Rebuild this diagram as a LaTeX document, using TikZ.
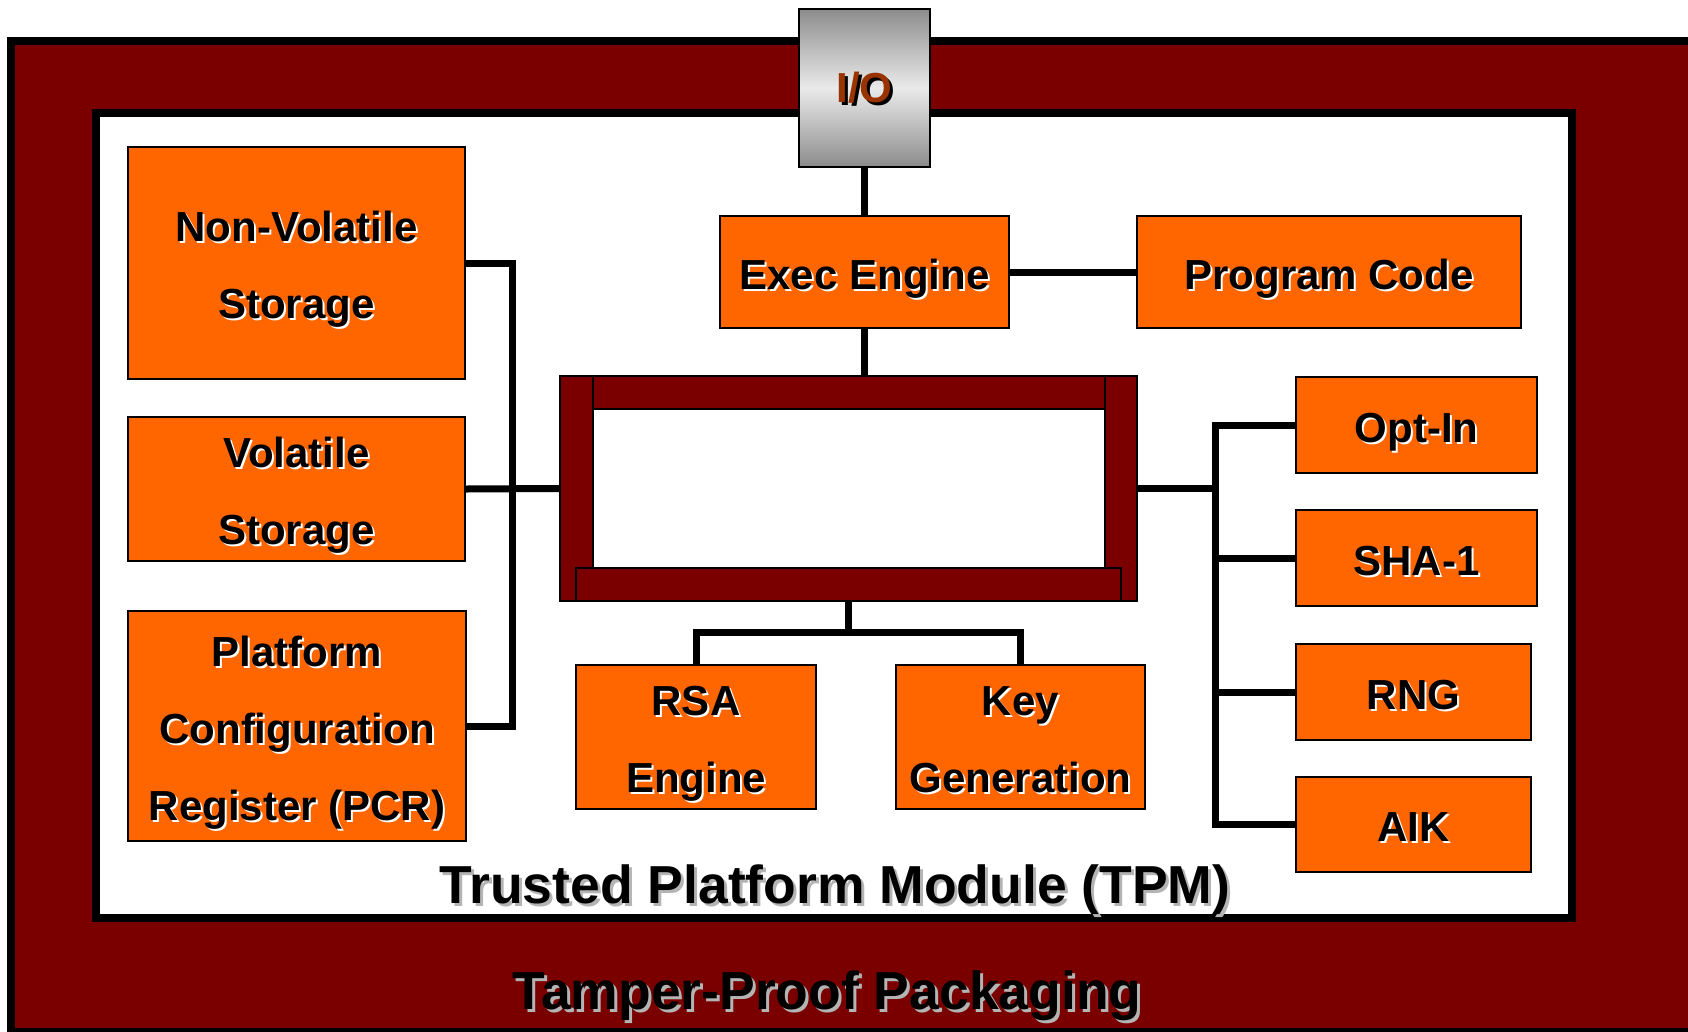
\documentclass[tikz,border=0pt]{standalone}
\usepackage{fontspec}
\setmainfont{Liberation Sans}
\definecolor{pkgred}{RGB}{122,0,0}
\definecolor{blockorange}{RGB}{255,102,0}
\definecolor{iotext}{RGB}{153,51,0}
\definecolor{iodark}{RGB}{140,140,140}
\definecolor{iolight}{RGB}{234,234,234}
\definecolor{softshadow}{RGB}{180,180,180}
% one line of text with a coloured drop shadow behind it:
% #1 shadow colour, #2 text, #3 offset
\newcommand{\shadowline}[3]{\rlap{\kern#3\smash{\raisebox{-#3}{\textcolor{#1}{#2}}}}#2}
% block label line with fixed metrics, so that labels sit centred on their capitals
\newcommand{\blocklabel}[1]{\smash{\shadowline{white}{#1}{2pt}}\rule[-3pt]{0pt}{40pt}}
\begin{document}
\begin{tikzpicture}[x=1pt,y=-1pt,
  block/.style={draw=black, line width=1.8pt, fill=blockorange, inner sep=0pt,
    align=center, font=\fontsize{42}{77}\selectfont\bfseries},
  wire/.style={draw=black, line width=7pt},
  bar/.style={draw=black, line width=1.5pt, fill=pkgred},
  frame/.style={draw=black, line width=8pt},
  caption/.style={font=\fontsize{53.5}{60}\selectfont\bfseries, anchor=base, inner sep=0pt}]
\useasboundingbox (0,0) rectangle (1688,1031);
\clip (0,0) rectangle (1688,1031);
\fill[white] (0,0) rectangle (1688,1031);

% packaging and module outlines
\draw[frame, fill=pkgred] (11,41) rectangle (1692,1032);
\draw[frame, fill=white] (96,113) rectangle (1572,918);

% internal bus frame
\node[inner sep=0pt, minimum width=577pt, minimum height=225pt] (bus) at (848.5,488.5) {};
\draw[bar] (560,376) rectangle (593,601);
\draw[bar] (1105,376) rectangle (1137,601);
\draw[bar] (593,376) rectangle (1105,409);
\draw[bar] (576,568) rectangle (1121,601);

% I/O port
\node[draw=black, line width=2pt, top color=iodark, bottom color=iodark, middle color=iolight,
  minimum width=131pt, minimum height=158pt, inner sep=0pt, text=iotext,
  font=\fontsize{42}{50}\selectfont\bfseries] (io) at (864.5,88) {\shadowline{black}{I/O}{3pt}};

% functional blocks
\node[block, minimum width=289pt, minimum height=112pt] (exec) at (864.5,272) {\blocklabel{Exec Engine}};
\node[block, minimum width=384pt, minimum height=112pt] (prog) at (1329,272) {\blocklabel{Program Code}};
\node[block, minimum width=337pt, minimum height=232pt] (nv) at (296.5,263) {\blocklabel{Non-Volatile}\\\blocklabel{Storage}};
\node[block, minimum width=337pt, minimum height=144pt] (vs) at (296.5,489) {\blocklabel{Volatile}\\\blocklabel{Storage}};
\node[block, minimum width=338pt, minimum height=230pt] (pcr) at (297,726) {\blocklabel{Platform}\\\blocklabel{Configuration}\\\blocklabel{Register (PCR)}};
\node[block, minimum width=240pt, minimum height=144pt] (rsa) at (696,737) {\blocklabel{RSA}\\\blocklabel{Engine}};
\node[block, minimum width=249pt, minimum height=144pt] (key) at (1020.5,737) {\blocklabel{Key}\\\blocklabel{Generation}};
\node[block, minimum width=241pt, minimum height=96pt] (opt) at (1416.5,425) {\blocklabel{Opt-In}};
\node[block, minimum width=241pt, minimum height=96pt] (sha) at (1416.5,558) {\blocklabel{SHA-1}};
\node[block, minimum width=235pt, minimum height=96pt] (rng) at (1413.5,692) {\blocklabel{RNG}};
\node[block, minimum width=235pt, minimum height=95pt] (aik) at (1413.5,824.5) {\blocklabel{AIK}};

% connectors
\draw[wire] (io.south) -- (exec.north);
\draw[wire] (exec.south) -- (exec.south |- bus.north);
\draw[wire] (exec.east) -- (prog.west);
\draw[wire] (bus.west) -- (vs.east);
\draw[wire] (nv.east) -- ++(47,0) |- (pcr.east);
\draw[wire] (bus.east) -- ++(79,0);
\draw[wire] (opt.west) -- ++(-80,0) |- (aik.west);
\draw[wire] (sha.west) -- ++(-80,0);
\draw[wire] (rng.west) -- ++(-80,0);
\draw[wire] (bus.south) -- ++(0,32);
\draw[wire] (rsa.north) -- ++(0,-32) -| (key.north);

% captions
\node[caption] (tpm) at (835,903) {\shadowline{softshadow}{Trusted Platform Module (TPM)}{3pt}};
\node[caption] (pkg) at (827,1009) {\shadowline{softshadow}{Tamper-Proof Packaging}{3pt}};
\end{tikzpicture}
\end{document}
